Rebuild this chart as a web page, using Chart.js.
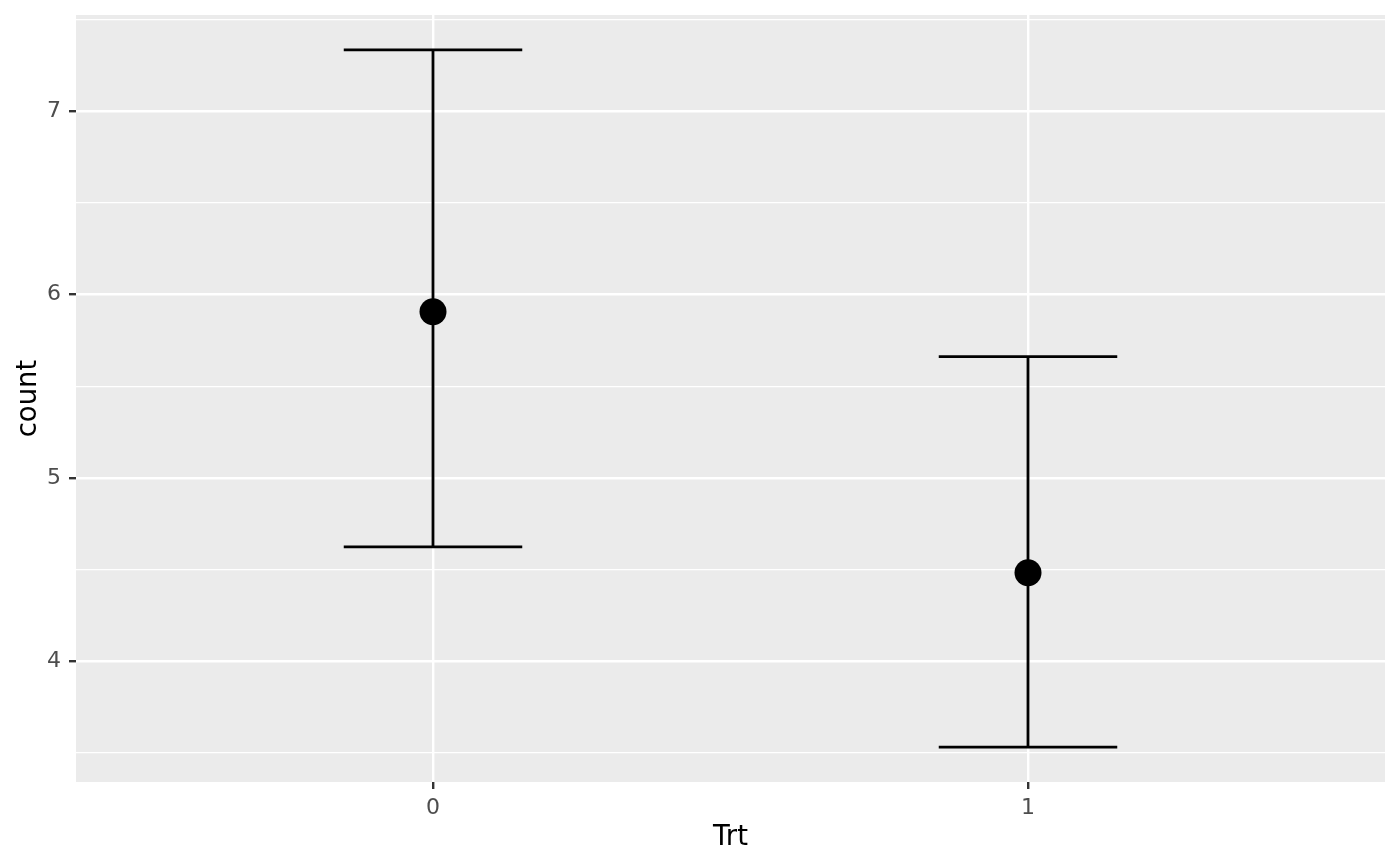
<!DOCTYPE html>
<html>
<head>
<meta charset="utf-8">
<script src="https://cdn.jsdelivr.net/npm/chart.js@4"></script>
<style>
  html, body { margin: 0; padding: 0; background: #ffffff; }
  #wrap { width: 1400px; height: 866px; }
</style>
</head>
<body>
<div id="wrap"><canvas id="myChart" width="1400" height="866"></canvas></div>
<script>
// data
const groups = [0, 1];
const groupLabels = ["0", "1"];
const means = [5.907, 4.483];
const lower = [4.624, 3.532];
const upper = [7.335, 5.662];
const yTicks = [3.5, 4, 4.5, 5, 5.5, 6, 6.5, 7, 7.5];

const capHalf = 0.15;
const ink = "#000000";

// ggplot-like 5% expansion of the y range
const yLo = Math.min(...lower);
const yHi = Math.max(...upper);
const yPad = (yHi - yLo) * 0.05;

/**
 * It builds the error bars (stem + two caps) for each group
 */
function errorBars() {
  const sets = [];
  groups.forEach((g, i) => {
    const line = (pts) => ({
      type: "scatter",
      showLine: true,
      data: pts,
      borderColor: ink,
      borderWidth: 2.8,
      pointRadius: 0,
      pointHoverRadius: 0,
      order: 2,
    });
    sets.push(line([{ x: g, y: lower[i] }, { x: g, y: upper[i] }]));
    sets.push(line([{ x: g - capHalf, y: upper[i] }, { x: g + capHalf, y: upper[i] }]));
    sets.push(line([{ x: g - capHalf, y: lower[i] }, { x: g + capHalf, y: lower[i] }]));
  });
  return sets;
}

const panelBg = {
  id: "panelBg",
  beforeDraw(chart) {
    const { ctx, chartArea: a } = chart;
    ctx.save();
    ctx.fillStyle = "#EBEBEB";
    ctx.fillRect(a.left, a.top, a.right - a.left, a.bottom - a.top);
    ctx.restore();
  },
};

const isMajor = (v) => Math.abs(v - Math.round(v)) < 1e-6;

const ctx = document.getElementById("myChart").getContext("2d");

const myChart = new Chart(ctx, {
  type: "scatter",
  data: {
    datasets: [
      ...errorBars(),
      {
        type: "scatter",
        data: groups.map((g, i) => ({ x: g, y: means[i] })),
        backgroundColor: ink,
        borderColor: ink,
        borderWidth: 0,
        pointRadius: 13.5,
        pointHoverRadius: 13.5,
        order: 1,
      },
    ],
  },
  plugins: [panelBg],
  options: {
    responsive: false,
    animation: false,
    layout: {
      padding: { top: 15, right: 15, bottom: 0, left: 0 },
    },
    scales: {
      x: {
        type: "linear",
        min: -0.6,
        max: 1.6,
        afterBuildTicks: (s) => {
          s.ticks = groups.map((g) => ({ value: g }));
        },
        afterFit: (s) => {
          s.height = 84;
          s.paddingLeft = 0;
          s.paddingRight = 0;
        },
        border: { display: false },
        grid: {
          color: "#ffffff",
          lineWidth: 2.4,
          drawTicks: true,
          tickLength: 7,
          tickColor: "#333333",
          tickWidth: 2.4,
        },
        ticks: {
          padding: 6,
          color: "#4D4D4D",
          font: { family: "DejaVu Sans", size: 22 },
          callback: (v) => groupLabels[groups.indexOf(v)] ?? "",
        },
        title: {
          display: true,
          text: "Trt",
          color: "#000000",
          font: { family: "DejaVu Sans", size: 27.5 },
          padding: { top: 0, bottom: 12 },
        },
      },
      y: {
        type: "linear",
        min: yLo - yPad,
        max: yHi + yPad,
        afterBuildTicks: (s) => {
          s.ticks = yTicks.map((v) => ({ value: v }));
        },
        afterFit: (s) => {
          s.width = 76;
          s.paddingTop = 0;
          s.paddingBottom = 0;
        },
        border: { display: false },
        grid: {
          color: "#ffffff",
          lineWidth: (c) => (isMajor(c.tick.value) ? 2.4 : 1.2),
          drawTicks: true,
          tickLength: 7,
          tickColor: (c) => (isMajor(c.tick.value) ? "#333333" : "rgba(0,0,0,0)"),
          tickWidth: 2.4,
        },
        ticks: {
          padding: 8,
          color: "#4D4D4D",
          font: { family: "DejaVu Sans", size: 22 },
          callback: (v) => (isMajor(v) ? String(Math.round(v)) : ""),
        },
        title: {
          display: true,
          text: "count",
          color: "#000000",
          font: { family: "DejaVu Sans", size: 27.5 },
          padding: { top: 12, bottom: 0 },
        },
      },
    },
    plugins: {
      legend: { display: false },
      tooltip: { enabled: false },
    },
  },
});
</script>
</body>
</html>
